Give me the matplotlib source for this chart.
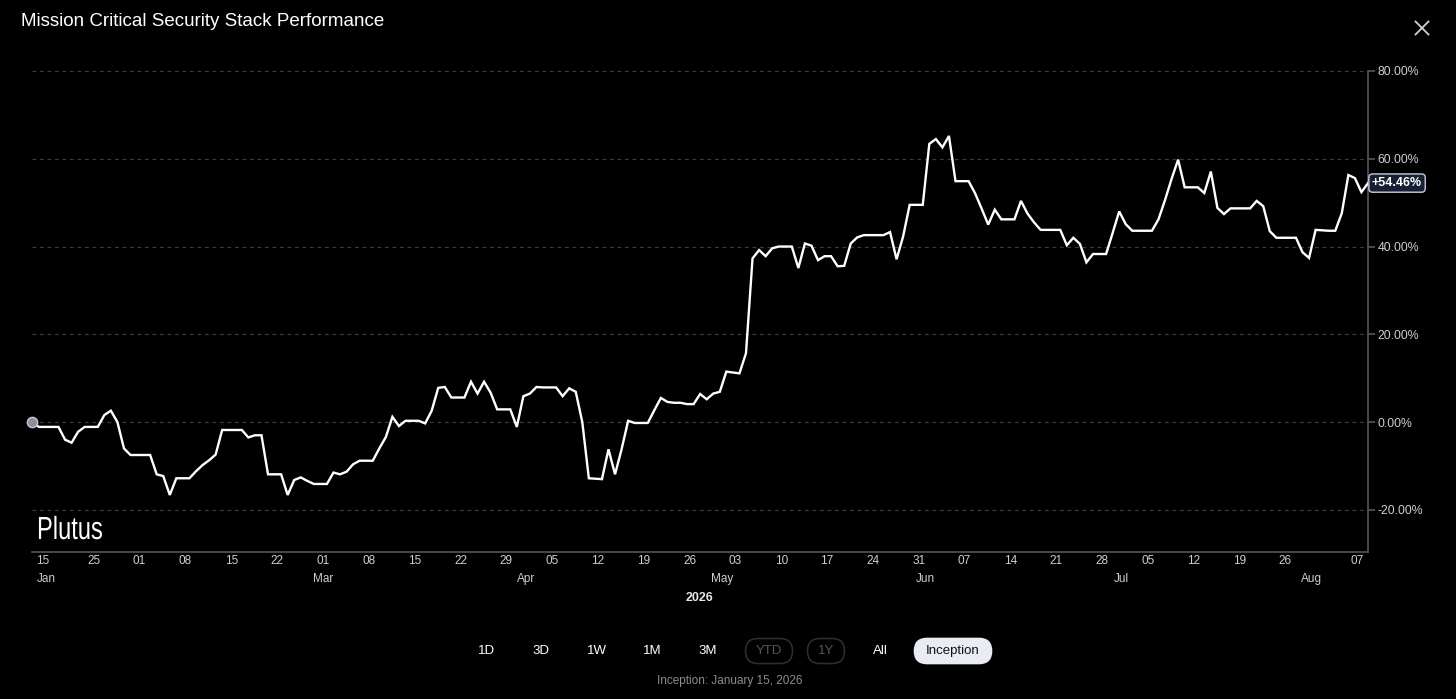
import matplotlib
matplotlib.use("Agg")
import matplotlib.pyplot as plt
import matplotlib.transforms as mtransforms
from matplotlib.lines import Line2D
from matplotlib.patches import FancyBboxPatch, PathPatch
from matplotlib.textpath import TextPath
from matplotlib.font_manager import FontProperties
import pandas as pd

# daily series (weekends carried flat), % return since inception
dates = pd.date_range("2026-01-15", "2026-08-07", freq="D")
returns = [
    0.0, -1.1, -1.1, -1.1, -1.1, -4.0, -4.7, -2.2, -1.1, -1.1,
    -1.1, 1.6, 2.6, 0.0, -6.0, -7.5, -7.5, -7.5, -7.5, -11.9,
    -12.3, -16.6, -12.8, -12.8, -12.8, -11.2, -9.8, -8.7, -7.4, -1.8,
    -1.8, -1.8, -1.8, -3.5, -3.0, -3.0, -11.9, -11.9, -11.9, -16.6,
    -13.2, -12.6, -13.4, -14.1, -14.1, -14.1, -11.5, -11.9, -11.3, -9.6,
    -8.8, -8.8, -8.8, -6.0, -3.4, 1.2, -0.9, 0.3, 0.3, 0.3,
    -0.3, 2.6, 7.8, 8.0, 5.6, 5.6, 5.6, 9.2, 6.5, 9.2,
    6.7, 2.9, 2.9, 2.9, -1.1, 5.9, 6.5, 8.0, 7.9, 7.9,
    7.9, 5.9, 7.7, 6.9, 0.0, -12.8, -12.9, -13.0, -6.2, -11.9,
    -6.2, 0.3, -0.2, -0.2, -0.2, 2.7, 5.5, 4.6, 4.4, 4.4,
    4.1, 4.1, 6.4, 5.2, 6.5, 6.9, 11.5, 11.3, 11.1, 15.7,
    37.3, 39.2, 37.8, 39.6, 40.0, 40.0, 40.0, 35.1, 40.7, 40.2,
    36.9, 37.8, 37.8, 35.5, 35.6, 40.7, 42.1, 42.6, 42.6, 42.6,
    42.6, 43.3, 37.1, 42.3, 49.5, 49.5, 49.5, 63.4, 64.5, 62.6,
    65.2, 54.9, 54.9, 54.9, 52.1, 48.6, 45.0, 48.4, 46.2, 46.2,
    46.2, 50.4, 47.5, 45.5, 43.8, 43.8, 43.8, 43.8, 40.3, 42.0,
    40.6, 36.4, 38.3, 38.3, 38.3, 43.1, 48.0, 45.1, 43.6, 43.6,
    43.6, 43.6, 46.2, 50.6, 55.4, 59.8, 53.5, 53.5, 53.5, 52.2,
    57.1, 48.8, 47.4, 48.7, 48.7, 48.7, 48.7, 50.4, 49.2, 43.5,
    42.0, 42.0, 42.0, 42.0, 38.7, 37.4, 43.8, 43.7, 43.6, 43.6,
    47.6, 56.3, 55.6, 52.4, 54.46,
]

tick_dates = ["2026-01-15", "2026-01-25", "2026-02-01", "2026-02-08", "2026-02-15",
              "2026-02-22", "2026-03-01", "2026-03-08", "2026-03-15", "2026-03-22",
              "2026-03-29", "2026-04-05", "2026-04-12", "2026-04-19", "2026-04-26",
              "2026-05-03", "2026-05-10", "2026-05-17", "2026-05-24", "2026-05-31",
              "2026-06-07", "2026-06-14", "2026-06-21", "2026-06-28", "2026-07-05",
              "2026-07-12", "2026-07-19", "2026-07-26", "2026-08-07"]
tick_labels = ["15", "25", "01", "08", "15", "22", "01", "08", "15", "22", "29",
               "05", "12", "19", "26", "03", "10", "17", "24", "31", "07", "14",
               "21", "28", "05", "12", "19", "26", "07"]
month_dates = ["2026-01-15", "2026-03-01", "2026-04-01", "2026-05-01",
               "2026-06-01", "2026-07-01", "2026-07-30"]
month_labels = ["Jan", "Mar", "Apr", "May", "Jun", "Jul", "Aug"]
y_ticks = [-20, 0, 20, 40, 60, 80]
buttons = ["1D", "3D", "1W", "1M", "3M", "YTD", "1Y", "All", "Inception"]

FONT = ["Liberation Sans", "DejaVu Sans"]
plt.rcParams["font.family"] = FONT

fig = plt.figure(figsize=(14.56, 6.99), dpi=100, facecolor="black")
W, H = 1456, 699
px = mtransforms.IdentityTransform()  # pixel coords, origin bottom-left
ax = fig.add_axes([32.3 / W, 1 - 552 / H, (1368 - 32.3) / W, (552 - 71) / H])
ax.set_facecolor("black")

ax.plot(dates, returns, color="white", lw=1.7, solid_joinstyle="miter", zorder=3)
ax.scatter([dates[0]], [returns[0]], s=55, color="#8e8e9c", edgecolor="#c9c9d2",
           linewidth=1, zorder=4, clip_on=False)

ax.set_xlim(dates[0], dates[-1])
ax.set_ylim(-29.6, 80)

for v in y_ticks:
    ax.axhline(v, color="#3a3a3a", lw=0.9, ls=(0, (3, 3)), zorder=1, clip_on=False)

for s in ["top", "left"]:
    ax.spines[s].set_visible(False)
ax.spines["right"].set_color("#55555f")
ax.spines["bottom"].set_color("#55555f")
ax.spines["right"].set_linewidth(1.2)
ax.spines["bottom"].set_linewidth(1.2)

ax.yaxis.tick_right()
ax.set_yticks(y_ticks)
ax.set_yticklabels([f"{v:.2f}%" for v in y_ticks])
ax.tick_params(axis="y", colors="#55555f", length=5, width=1.2, pad=2,
               labelcolor="#cfcfcf", labelsize=8.8)
ax.set_xticks([])

# date labels under the axis
xt = ax.get_xaxis_transform()
n = len(tick_dates)
for i, (d, lab) in enumerate(zip(tick_dates, tick_labels)):
    if i == 0:
        ha, dx = "left", 4
    elif i == n - 1:
        ha, dx = "right", -4
    else:
        ha, dx = "center", -4
    tr = mtransforms.offset_copy(xt, fig=fig, x=dx, y=-9, units="dots")
    ax.text(pd.Timestamp(d), 0, lab, transform=tr, ha=ha, va="center",
            color="#cfcfcf", fontsize=8.5)
for i, (d, lab) in enumerate(zip(month_dates, month_labels)):
    ha, dx = ("left", 5) if i == 0 else ("center", -4)
    tr = mtransforms.offset_copy(xt, fig=fig, x=dx, y=-27, units="dots")
    ax.text(pd.Timestamp(d), 0, lab, transform=tr, ha=ha, va="center",
            color="#cfcfcf", fontsize=8.5)
fig.text(700 / W, 1 - 598 / H, "2026", ha="center", va="center", color="#e6e6e6",
         fontsize=9, fontweight="bold")

# end value badge
tr = mtransforms.offset_copy(ax.transData, fig=fig, x=4, y=0, units="dots")
ax.text(dates[-1], returns[-1], f"{returns[-1]:+.2f}%", transform=tr, ha="left",
        va="center", color="white", fontsize=9, fontweight="bold", zorder=6,
        clip_on=False,
        bbox=dict(boxstyle="round,pad=0.25,rounding_size=0.3", fc="#172033",
                  ec="#c5cde0", lw=1.0))

# watermark, horizontally condensed
wm = TextPath((0, 0), "Plutus", size=32, prop=FontProperties(family="Liberation Sans"))
fig.add_artist(PathPatch(wm, transform=mtransforms.Affine2D().scale(0.74, 1.0)
                         .translate(37, H - 539), fc="white", ec="none"))

# title and close icon
fig.text(21 / W, 1 - 22 / H, "Mission Critical Security Stack Performance",
         ha="left", va="center", color="white", fontsize=13.5)
cx, cy, r = 1422, 28, 6.5
fig.add_artist(Line2D([(cx - r) / W, (cx + r) / W], [1 - (cy - r) / H, 1 - (cy + r) / H],
                      color="#d0d0d0", lw=1.3))
fig.add_artist(Line2D([(cx - r) / W, (cx + r) / W], [1 - (cy + r) / H, 1 - (cy - r) / H],
                      color="#d0d0d0", lw=1.3))

# range buttons
btn_x = [487, 541, 597, 652, 708, 769, 826, 880, 953]
btn_w = {"YTD": 47, "1Y": 37, "Inception": 77}
by = 651
for lab, x in zip(buttons, btn_x):
    color = "white"
    if lab in btn_w:
        w = btn_w[lab]
        active = lab == "Inception"
        fig.add_artist(FancyBboxPatch((x - w / 2, H - by - 12.5), w, 25,
                                      boxstyle="round,pad=0,rounding_size=12.5",
                                      transform=px,
                                      fc="#e9ecf2" if active else "black",
                                      ec="#e9ecf2" if active else "#2c2c34",
                                      lw=1.2))
        color = "#111111" if active else "#55555c"
    fig.text(x / W, 1 - by / H, lab, ha="center", va="center", color=color,
             fontsize=9.5, zorder=5)

fig.text(730 / W, 1 - 681 / H, "Inception: January 15, 2026", ha="center",
         va="center", color="#8c8c8c", fontsize=8.5)

fig.savefig("out.png", dpi=100, facecolor="black")
